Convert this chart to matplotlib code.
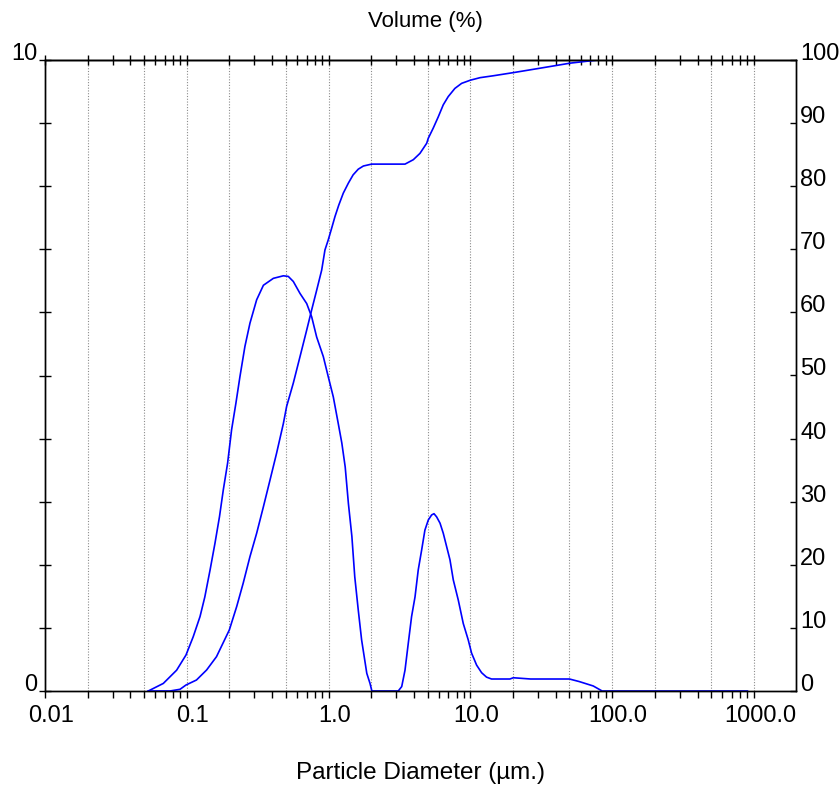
import numpy as np
import matplotlib.pyplot as plt
from matplotlib.transforms import ScaledTranslation

plt.rcParams['font.family'] = ['Liberation Sans', 'DejaVu Sans']

# frequency curve (left axis, volume %)
freq_d = [0.0535, 0.0683, 0.0848, 0.0987, 0.111, 0.124, 0.134, 0.146, 0.158, 0.170,
          0.181, 0.194, 0.207, 0.222, 0.237, 0.257, 0.279, 0.311, 0.347, 0.408,
          0.480, 0.520, 0.564, 0.629, 0.701, 0.760, 0.824, 0.918, 0.995, 1.08,
          1.17, 1.24, 1.31, 1.38, 1.46, 1.53, 1.62, 1.71, 1.86, 1.96, 2.02,
          3.10, 3.28, 3.46, 3.65, 3.85, 4.07, 4.29, 4.53, 4.78, 5.05, 5.33, 5.54,
          5.78, 6.11, 6.44, 6.80, 7.18, 7.58, 8.22, 8.91, 9.66, 10.2, 11.07, 12.0,
          13.0, 14.1, 19.0, 20.1, 26.6, 50.0, 58.5, 73.5, 85.0, 900.0]
freq_v = [0.0, 0.12, 0.33, 0.57, 0.86, 1.18, 1.49, 1.92, 2.34, 2.76,
          3.19, 3.61, 4.14, 4.56, 4.98, 5.46, 5.83, 6.20, 6.43, 6.54,
          6.58, 6.57, 6.49, 6.30, 6.14, 5.93, 5.61, 5.30, 4.98, 4.66,
          4.24, 3.93, 3.55, 2.97, 2.45, 1.81, 1.28, 0.81, 0.28, 0.12, 0.0,
          0.0, 0.07, 0.33, 0.76, 1.18, 1.49, 1.92, 2.23, 2.55, 2.71, 2.79, 2.81,
          2.76, 2.66, 2.50, 2.29, 2.08, 1.76, 1.44, 1.07, 0.81, 0.60, 0.41, 0.29,
          0.22, 0.19, 0.19, 0.21, 0.19, 0.19, 0.15, 0.08, 0.0, 0.0]

# cumulative curve (right axis)
cum_d = [0.0535, 0.0761, 0.0896, 0.0987, 0.117, 0.138, 0.162, 0.1995, 0.225, 0.250,
         0.279, 0.311, 0.347, 0.386, 0.430, 0.480, 0.506, 0.564, 0.629, 0.701,
         0.760, 0.824, 0.894, 0.943, 0.995, 1.05, 1.11, 1.18, 1.27, 1.38, 1.49,
         1.62, 1.76, 2.01, 3.46, 3.96, 4.41, 4.92, 5.05, 5.47, 5.94, 6.44, 6.98,
         7.78, 8.68, 10.0, 11.7, 14.5, 20.1, 31.0, 50.5, 66.1, 80.0, 900.0]
cum_v = [0.0, 0.0, 0.27, 0.95, 1.74, 3.33, 5.44, 9.67, 13.4, 17.1,
         21.3, 25.0, 29.2, 33.4, 37.7, 42.4, 45.1, 48.8, 53.0, 57.2,
         60.4, 63.5, 66.7, 69.9, 71.5, 73.3, 75.2, 77.0, 78.9, 80.5, 81.8,
         82.7, 83.2, 83.5, 83.5, 84.2, 85.2, 86.8, 87.6, 89.2, 91.0, 92.9, 94.2,
         95.5, 96.3, 96.8, 97.2, 97.5, 98.0, 98.7, 99.5, 99.8, 100.0, 100.0]

grid_x = [0.02, 0.05, 0.1, 0.2, 0.5, 1, 2, 5, 10, 20, 50, 100, 200, 500, 1000]
xticks = [0.01, 0.1, 1, 10, 100, 1000]
xlabels = ['0.01', '0.1', '1.0', '10.0', '100.0', '1000.0']

fig = plt.figure(figsize=(8.4, 7.87), dpi=100)
ax = fig.add_axes([45/840, 1 - 691/787, 751/840, 631/787])
ax2 = ax.twinx()

ax.set_xscale('log')
ax.set_xlim(0.01, 1980)
ax.set_ylim(0, 10)
ax2.set_ylim(0, 100)

for g in grid_x:
    ax.axvline(g, color='#8c8c8c', lw=0.8, ls=(0, (1, 1.5)), zorder=0)

ax.plot(freq_d, freq_v, color='#0000ff', lw=1.2)
ax2.plot(cum_d, cum_v, color='#0000ff', lw=1.2)

fs = 17
ax.set_xticks(xticks)
ax.set_xticklabels(xlabels, fontsize=fs)
ax.tick_params(axis='x', which='both', direction='out', length=5, width=1, pad=5)
ax.tick_params(axis='x', which='minor', labelbottom=False)

top = ax.secondary_xaxis('top')
top.set_xticks(xticks)
top.tick_params(axis='x', which='both', direction='inout', length=7, width=1,
                labeltop=False)
top.spines['top'].set_linewidth(1)

ax.set_yticks(range(11))
ax.set_yticklabels(['0'] + [''] * 9 + ['10'], fontsize=fs)
ax.tick_params(axis='y', direction='inout', length=9, width=1, pad=1)

ax2.set_yticks(range(0, 101, 10))
ax2.set_yticklabels([str(v) for v in range(0, 101, 10)], fontsize=fs)
ax2.tick_params(axis='y', direction='in', length=4, width=1, pad=3)

for s in ax.spines.values():
    s.set_linewidth(1)
for s in ax2.spines.values():
    s.set_linewidth(1)

shift = ScaledTranslation(6/100, 0, fig.dpi_scale_trans)
for lab in ax.get_xticklabels():
    lab.set_transform(lab.get_transform() + shift)
for lab in ax.get_yticklabels() + ax2.get_yticklabels():
    lab.set_verticalalignment('baseline')

fig.text(425/840, 1 - 21/787, 'Volume (%)', ha='center', va='center', fontsize=16)
fig.text(420/840, 1 - 773/787, 'Particle Diameter (µm.)', ha='center',
         va='center', fontsize=17.5)

fig.savefig('out.png', dpi=100)
